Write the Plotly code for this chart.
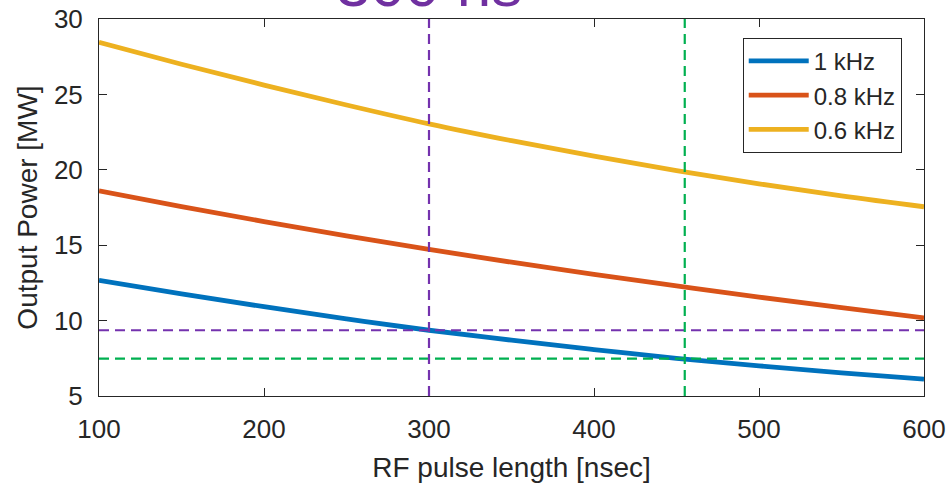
import plotly.graph_objects as go

# ---- data ----
pulse_ns = [100, 150, 200, 250, 300, 350, 400, 450, 500, 550, 600]
p_1khz = [12.67, 11.77, 10.92, 10.12, 9.36, 8.70, 8.08, 7.50, 7.00, 6.54, 6.12]
p_08khz = [18.6, 17.56, 16.57, 15.62, 14.72, 13.87, 13.07, 12.30, 11.56, 10.86, 10.18]
p_06khz = [28.45, 27.0, 25.62, 24.3, 23.05, 21.93, 20.9, 19.95, 19.07, 18.27, 17.55]
series_names = ["1 kHz", "0.8 kHz", "0.6 kHz"]

purple_x, purple_y = 300, 9.36
green_x, green_y = 455, 7.48
top_label = "300 ns"

x_ticks = [100, 200, 300, 400, 500, 600]
y_ticks = [5, 10, 15, 20, 25, 30]

colors = ["#0072BD", "#D95319", "#EDB120"]
purple = "#7432AE"
green = "#00B050"
axis_col = "#262626"
FONT = "Liberation Sans, Arial, sans-serif"

fig = go.Figure()
for name, ys, c in zip(series_names, [p_1khz, p_08khz, p_06khz], colors):
    fig.add_trace(go.Scatter(x=pulse_ns, y=ys, mode="lines", name=name,
                             line=dict(color=c, width=4.8, shape="spline", smoothing=1.0)))

dash = "10px,6px"
fig.add_hline(y=purple_y, line=dict(color=purple, width=2.2, dash=dash))
fig.add_hline(y=green_y, line=dict(color=green, width=2.2, dash=dash))
fig.add_vline(x=purple_x, line=dict(color=purple, width=2.2, dash=dash))
fig.add_vline(x=green_x, line=dict(color=green, width=2.2, dash=dash))

fig.add_annotation(text=top_label, x=purple_x, xref="x", y=1, yref="paper",
                   yanchor="bottom", xanchor="center", showarrow=False, yshift=-2,
                   font=dict(family=FONT, size=62, color="#7030A0"))

axis_common = dict(showline=True, linecolor=axis_col, linewidth=1, mirror="ticks",
                   ticks="inside", ticklen=8, tickcolor=axis_col, showgrid=False,
                   zeroline=False, automargin=False,
                   tickfont=dict(family=FONT, size=26, color=axis_col))

fig.update_xaxes(range=[100, 600], tickvals=x_ticks, ticklabelstandoff=10,
                 title=dict(text="RF pulse length [nsec]", standoff=14,
                            font=dict(family=FONT, size=28, color=axis_col)),
                 **axis_common)
fig.update_yaxes(range=[5, 30], tickvals=y_ticks, ticklabelstandoff=10,
                 title=dict(text="Output Power [MW]", standoff=8,
                            font=dict(family=FONT, size=28, color=axis_col)),
                 **axis_common)

fig.update_layout(
    width=946, height=487,
    margin=dict(l=99, r=22, t=19, b=91),
    paper_bgcolor="white", plot_bgcolor="white",
    font=dict(family=FONT, color=axis_col),
    showlegend=True,
    legend=dict(x=0.973, y=0.95, xanchor="right", yanchor="top",
                bgcolor="white", bordercolor=axis_col, borderwidth=1,
                font=dict(family=FONT, size=24, color=axis_col),
                itemwidth=60, tracegroupgap=0),
)

fig.write_html("out.html", config={"displayModeBar": False},
               post_script="document.body.style.margin='0';")
